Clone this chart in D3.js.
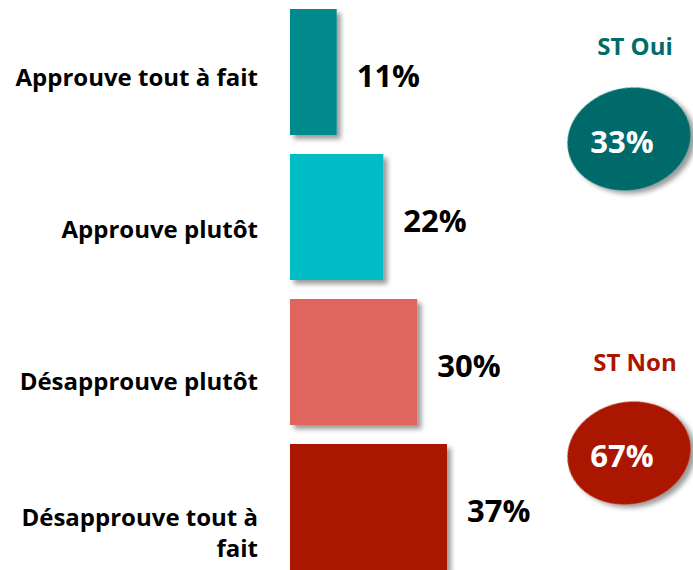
<!DOCTYPE html>
<html><head><meta charset="utf-8">
<script src="https://cdn.jsdelivr.net/npm/d3@7"></script>
<style>body{margin:0;background:#fff}svg{display:block}text{font-family:"Open Sans","DejaVu Sans",sans-serif;font-weight:bold}</style>
</head><body><div id="chart"></div>
<script>
const categories = ["Approuve tout à fait","Approuve plutôt","Désapprouve plutôt","Désapprouve tout à fait"];
const values = [11,22,30,37];
const colors = ["#008A8C","#00BDC5","#E0655F","#AA1500"];
const summaryLabels = ["ST Oui","ST Non"];
const summaryValues = [33,67];
const summaryColors = ["#006B6B","#AA1500"];

const W=693,H=570;
const svg=d3.select("#chart").append("svg").attr("width",W).attr("height",H);
const defs=svg.append("defs");
const f=defs.append("filter").attr("id","sh").attr("x","-20%").attr("y","-20%").attr("width","150%").attr("height","150%");
f.append("feDropShadow").attr("dx",4).attr("dy",4).attr("stdDeviation",2.5).attr("flood-color","#000").attr("flood-opacity",0.4);

const x=d3.scaleLinear().domain([0,37]).range([290,447]);
const y=d3.scaleBand().domain(categories).range([9,570]).paddingInner(19/145).paddingOuter(0);
const ly=d3.scalePoint().domain(categories).range([78,534]);

svg.selectAll("rect.bar").data(categories).join("rect").attr("class","bar")
 .attr("x",x(0)).attr("y",d=>y(d)).attr("width",(d,i)=>x(values[i])-x(0)).attr("height",y.bandwidth())
 .attr("fill",(d,i)=>colors[i]).attr("filter","url(#sh)");

svg.selectAll("text.val").data(categories).join("text").attr("class","val")
 .attr("x",(d,i)=>x(values[i])+20).attr("y",d=>y(d)+y.bandwidth()/2+4).attr("dy","0.35em")
 .attr("font-size",31).attr("fill","#000").text((d,i)=>values[i]+"%");

const lab=svg.selectAll("text.cat").data(categories).join("text").attr("class","cat")
 .attr("x",258).attr("text-anchor","end").attr("font-size",24).attr("fill","#000");
lab.each(function(d){
  const t=d3.select(this), cy=ly(d);
  if(d==="Désapprouve tout à fait"){
    t.attr("y",cy-16);
    t.append("tspan").attr("x",258).attr("dy","0.35em").text("Désapprouve tout à");
    t.append("tspan").attr("x",258).attr("dy",31).text("fait");
  } else {
    t.attr("y",cy).attr("dy","0.35em").text(d);
  }
});

const sy=[47,363], ey=[139,453];
summaryLabels.forEach((s,i)=>{
  svg.append("text").attr("x",635).attr("y",sy[i]).attr("dy","0.35em").attr("text-anchor","middle")
    .attr("font-size",24).attr("fill",summaryColors[i]).text(s);
  svg.append("ellipse").attr("cx",629).attr("cy",ey[i]).attr("rx",62).attr("ry",51)
    .attr("transform",`rotate(-12,629,${ey[i]})`).attr("fill",summaryColors[i]).attr("filter","url(#sh)");
  svg.append("text").attr("x",622).attr("y",ey[i]+3).attr("dy","0.35em").attr("text-anchor","middle")
    .attr("font-size",31).attr("fill","#fff").text(summaryValues[i]+"%");
});
</script></body></html>
